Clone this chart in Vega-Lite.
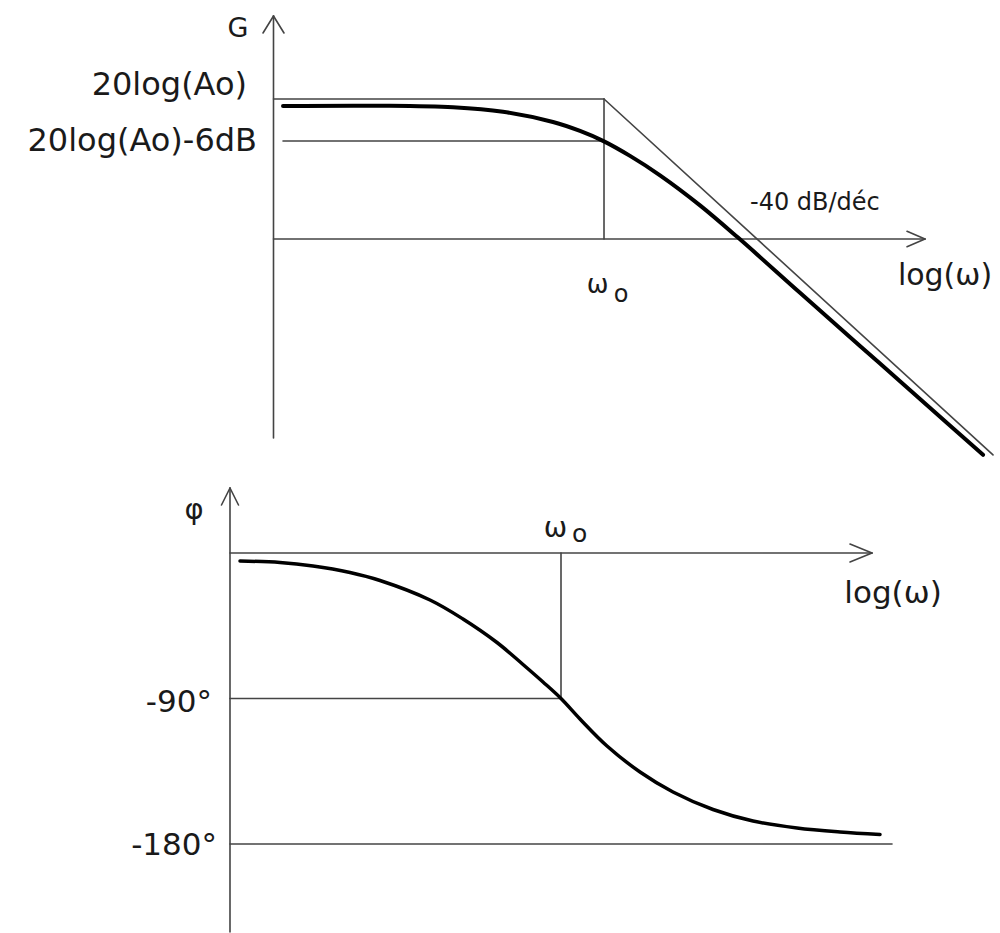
{
  "$schema": "https://vega.github.io/schema/vega-lite/v6.json",
  "padding": 0,
  "spacing": 0,
  "bounds": "flush",
  "background": "white",
  "config": {"view": {"stroke": null}},
  "datasets": {
    "topRules": [
      {"d": -1.0801, "G": 31.857, "d2": -1.0801, "G2": -28.43},
      {"d": -1.1144, "G": 29.43, "d2": -1.0801, "G2": 31.857},
      {"d": -1.0458, "G": 29.43, "d2": -1.0801, "G2": 31.857},
      {"d": -1.0801, "G": 0, "d2": 1.049, "G2": 0},
      {"d": 0.9902, "G": 1.1, "d2": 1.049, "G2": 0},
      {"d": 0.9902, "G": -1.1, "d2": 1.049, "G2": 0},
      {"d": -1.0801, "G": 20, "d2": 0, "G2": 20},
      {"d": -1.049, "G": 14, "d2": 0, "G2": 14},
      {"d": 0, "G": 0, "d2": 0, "G2": 20},
      {"d": 0, "G": 20, "d2": 1.2712, "G2": -30.85}
    ],
    "gain": [
      {"d": -1.049, "G": 19.0},
      {"d": -0.732, "G": 19.03},
      {"d": -0.4935, "G": 18.81},
      {"d": -0.3301, "G": 18.17},
      {"d": -0.1667, "G": 16.71},
      {"d": -0.0784, "G": 15.43},
      {"d": 0, "G": 13.95},
      {"d": 0.085, "G": 11.87},
      {"d": 0.183, "G": 9.1},
      {"d": 0.3137, "G": 4.81},
      {"d": 0.4379, "G": 0.2},
      {"d": 0.6405, "G": -7.69},
      {"d": 0.8366, "G": -15.27},
      {"d": 1.0327, "G": -22.86},
      {"d": 1.2386, "G": -30.83}
    ],
    "bottomRules": [
      {"d": -1.0817, "p": 40.2, "d2": -1.0817, "p2": -234.4},
      {"d": -1.1095, "p": 29.69, "d2": -1.0817, "p2": 40.2},
      {"d": -1.0539, "p": 29.69, "d2": -1.0817, "p2": 40.2},
      {"d": -1.0817, "p": 0, "d2": 1.0163, "p2": 0},
      {"d": 0.9444, "p": 5.57, "d2": 1.0163, "p2": 0},
      {"d": 0.9444, "p": -5.57, "d2": 1.0163, "p2": 0},
      {"d": 0, "p": 0, "d2": 0, "p2": -90},
      {"d": -1.0817, "p": -90, "d2": 0, "p2": -90},
      {"d": -1.0817, "p": -180, "d2": 1.0817, "p2": -180}
    ],
    "phase": [
      {"d": -1.049, "p": -4.95},
      {"d": -0.9183, "p": -5.88},
      {"d": -0.8105, "p": -8.04},
      {"d": -0.6895, "p": -12.06},
      {"d": -0.5915, "p": -17.01},
      {"d": -0.4281, "p": -29.07},
      {"d": -0.3203, "p": -40.82},
      {"d": -0.2092, "p": -55.36},
      {"d": -0.1242, "p": -68.97},
      {"d": -0.0588, "p": -79.79},
      {"d": 0, "p": -90},
      {"d": 0.0621, "p": -102.68},
      {"d": 0.1503, "p": -119.38},
      {"d": 0.2582, "p": -135.46},
      {"d": 0.366, "p": -147.83},
      {"d": 0.4967, "p": -158.66},
      {"d": 0.6275, "p": -165.77},
      {"d": 0.7712, "p": -170.1},
      {"d": 0.9118, "p": -172.57},
      {"d": 1.0425, "p": -174.12}
    ]
  },
  "vconcat": [
    {
      "width": 1000,
      "height": 466,
      "encoding": {
        "x": {"field": "d", "type": "quantitative", "scale": {"domain": [-1.9739, 1.2941], "nice": false, "zero": false}, "axis": null},
        "y": {"field": "G", "type": "quantitative", "scale": {"domain": [-32.429, 34.143], "nice": false, "zero": false}, "axis": null}
      },
      "layer": [
        {
          "data": {"name": "topRules"},
          "mark": {"type": "rule", "color": "#444444", "strokeWidth": 1.6, "strokeCap": "round"},
          "encoding": {"x2": {"field": "d2"}, "y2": {"field": "G2"}}
        },
        {
          "data": {"name": "gain"},
          "mark": {"type": "line", "color": "#000000", "strokeWidth": 4, "interpolate": "catmull-rom", "strokeCap": "round"},
          "encoding": {}
        },
        {
          "data": {"values": [{"d": -1.1667, "G": 20.571, "t": "20log(Ao)"}, {"d": -1.134, "G": 12.614, "t": "20log(Ao)-6dB"}]},
          "mark": {"type": "text", "align": "right", "baseline": "alphabetic", "fontSize": 32, "font": "DejaVu Sans", "color": "#1a1a1a"},
          "encoding": {"text": {"field": "t"}}
        },
        {
          "data": {"values": [{"d": -1.196, "G": 28.9, "t": "G"}]},
          "mark": {"type": "text", "align": "center", "baseline": "alphabetic", "fontSize": 27, "font": "DejaVu Sans", "color": "#1a1a1a"},
          "encoding": {"text": {"field": "t"}}
        },
        {
          "data": {"values": [{"d": 0.477, "G": 4.143, "t": "-40 dB/déc"}]},
          "mark": {"type": "text", "align": "left", "baseline": "alphabetic", "fontSize": 24, "font": "DejaVu Sans", "color": "#1a1a1a"},
          "encoding": {"text": {"field": "t"}}
        },
        {
          "data": {"values": [{"d": 1.1144, "G": -6.571, "t": "log(ω)"}]},
          "mark": {"type": "text", "align": "center", "baseline": "alphabetic", "fontSize": 30, "font": "DejaVu Sans", "color": "#1a1a1a"},
          "encoding": {"text": {"field": "t"}}
        },
        {
          "data": {"values": [{"d": -0.0212, "G": -7.757, "t": "ω"}]},
          "mark": {"type": "text", "align": "center", "baseline": "alphabetic", "fontSize": 26, "font": "DejaVu Sans", "color": "#1a1a1a"},
          "encoding": {"text": {"field": "t"}}
        },
        {
          "data": {"values": [{"d": 0.0556, "G": -8.957, "t": "o"}]},
          "mark": {"type": "text", "align": "center", "baseline": "alphabetic", "fontSize": 24, "font": "DejaVu Sans", "color": "#1a1a1a"},
          "encoding": {"text": {"field": "t"}}
        }
      ]
    },
    {
      "width": 1000,
      "height": 467,
      "encoding": {
        "x": {"field": "d", "type": "quantitative", "scale": {"domain": [-1.8333, 1.4346], "nice": false, "zero": false}, "axis": null},
        "y": {"field": "p", "type": "quantitative", "scale": {"domain": [-235.05, 53.81], "nice": false, "zero": false}, "axis": null}
      },
      "layer": [
        {
          "data": {"name": "bottomRules"},
          "mark": {"type": "rule", "color": "#444444", "strokeWidth": 1.6, "strokeCap": "round"},
          "encoding": {"x2": {"field": "d2"}, "y2": {"field": "p2"}}
        },
        {
          "data": {"name": "phase"},
          "mark": {"type": "line", "color": "#000000", "strokeWidth": 3.5, "interpolate": "catmull-rom", "strokeCap": "round"},
          "encoding": {}
        },
        {
          "data": {"values": [{"d": -1.1405, "p": -98.2, "t": "-90°"}, {"d": -1.1242, "p": -186.8, "t": "-180°"}]},
          "mark": {"type": "text", "align": "right", "baseline": "alphabetic", "fontSize": 31, "font": "DejaVu Sans", "color": "#1a1a1a"},
          "encoding": {"text": {"field": "t"}}
        },
        {
          "data": {"values": [{"d": -1.1993, "p": 26.9, "t": "φ"}]},
          "mark": {"type": "text", "align": "center", "baseline": "middle", "fontSize": 29, "font": "DejaVu Sans", "color": "#1a1a1a"},
          "encoding": {"text": {"field": "t"}}
        },
        {
          "data": {"values": [{"d": 1.085, "p": -31.1, "t": "log(ω)"}]},
          "mark": {"type": "text", "align": "center", "baseline": "alphabetic", "fontSize": 31, "font": "DejaVu Sans", "color": "#1a1a1a"},
          "encoding": {"text": {"field": "t"}}
        },
        {
          "data": {"values": [{"d": -0.018, "p": 10.08, "t": "ω"}]},
          "mark": {"type": "text", "align": "center", "baseline": "alphabetic", "fontSize": 28, "font": "DejaVu Sans", "color": "#1a1a1a"},
          "encoding": {"text": {"field": "t"}}
        },
        {
          "data": {"values": [{"d": 0.0605, "p": 6.99, "t": "o"}]},
          "mark": {"type": "text", "align": "center", "baseline": "alphabetic", "fontSize": 25, "font": "DejaVu Sans", "color": "#1a1a1a"},
          "encoding": {"text": {"field": "t"}}
        }
      ]
    }
  ]
}
